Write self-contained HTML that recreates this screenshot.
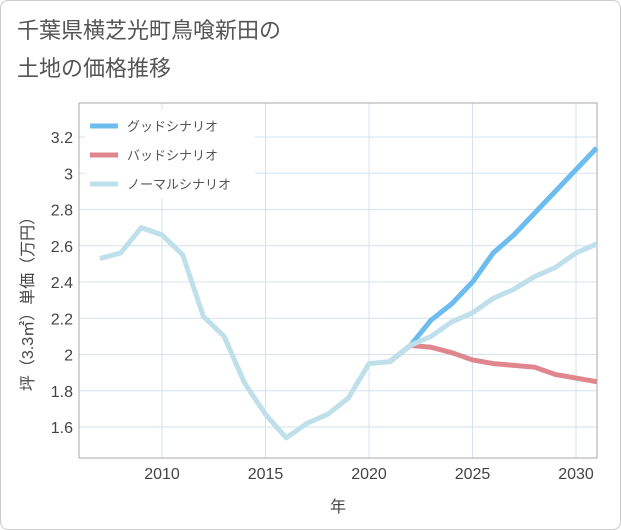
<!DOCTYPE html>
<html><head><meta charset="utf-8"><style>
body{margin:0;background:#fff;}
.card{position:absolute;left:0;top:0;width:619px;height:528px;border:1px solid #ccc;border-radius:8px;background:#fff;}
.title{position:absolute;left:17px;top:12px;font:22px "Liberation Sans","Noto Sans CJK JP",sans-serif;color:#555;line-height:38px;}
svg text{font-family:"Liberation Sans","Noto Sans CJK JP",sans-serif;}
</style></head><body>
<div class="card"></div>
<div class="title">千葉県横芝光町鳥喰新田の<br>土地の価格推移</div>
<svg id="c" width="621" height="530" style="position:absolute;left:0;top:0"></svg>
<script>
const normalYears=[2007,2008,2009,2010,2011,2012,2013,2014,2015,2016,2017,2018,2019,2020,2021,2022,2023,2024,2025,2026,2027,2028,2029,2030,2031];
const normalValues=[2.53,2.56,2.70,2.66,2.55,2.21,2.10,1.84,1.67,1.54,1.62,1.67,1.76,1.95,1.96,2.05,2.10,2.18,2.23,2.31,2.36,2.43,2.48,2.56,2.61];
const goodYears=[2021,2022,2023,2024,2025,2026,2027,2028,2029,2030,2031];
const goodValues=[1.96,2.05,2.19,2.28,2.40,2.56,2.66,2.78,2.90,3.02,3.14];
const badYears=[2021,2022,2023,2024,2025,2026,2027,2028,2029,2030,2031];
const badValues=[1.96,2.05,2.04,2.01,1.97,1.95,1.94,1.93,1.89,1.87,1.85];
const xTicks=[2010,2015,2020,2025,2030];
const yTicks=[1.6,1.8,2,2.2,2.4,2.6,2.8,3,3.2];
const L=79,R=597,T=103,B=458;
const xs=y=>162+(y-2010)*(576-162)/20;
const ys=v=>427-(v-1.6)*(427-137)/1.6;
const svg=document.getElementById('c');
const NS='http://www.w3.org/2000/svg';
function mk(t,a,p){const e=document.createElementNS(NS,t);for(const k in a)e.setAttribute(k,a[k]);(p||svg).appendChild(e);return e;}
xTicks.forEach(t=>{
const g=mk('line',{x1:xs(t),x2:xs(t),y1:T,y2:B,stroke:'#d3e3ef','stroke-width':1});


const l=mk('text',{x:xs(t),y:B+21,'text-anchor':'middle','font-size':16,fill:'#444'});l.textContent=t;


});
yTicks.forEach(t=>{
const g=mk('line',{x1:L,x2:R,y1:ys(t),y2:ys(t),stroke:'#d3e3ef','stroke-width':1});


const l=mk('text',{x:L-6,y:ys(t)+6,'text-anchor':'end','font-size':16,fill:'#444'});l.textContent=String(t);


});
const fr=mk('rect',{x:L,y:T,width:R-L,height:B-T,fill:'none',stroke:'#aaa','stroke-width':1});


function line(xa,va,col,name){
const p=mk('polyline',{points:xa.map((y,i)=>xs(y)+','+ys(va[i])).join(' '),fill:'none',stroke:col,'stroke-width':5,'stroke-linejoin':'round'});


}
line(goodYears,goodValues,'#6cbcf0','good-scenario-line');
line(badYears,badValues,'#e0868e','bad-scenario-line');
line(normalYears,normalValues,'#bfdfea','normal-scenario-line');
const lb=mk('rect',{x:85,y:110,width:170,height:88,fill:'#fff'});


[['グッドシナリオ','#6cbcf0'],['バッドシナリオ','#e0868e'],['ノーマルシナリオ','#bfdfea']].forEach((d,i)=>{
const y=126+i*29;
const s=mk('line',{x1:90,x2:118,y1:y,y2:y,stroke:d[1],'stroke-width':5});


const t=mk('text',{x:127,y:y+5,'font-size':13,fill:'#555'});t.textContent=d[0];


});
const xt=mk('text',{x:338,y:512,'text-anchor':'middle','font-size':16,fill:'#444'});xt.textContent='年';


const yt=mk('text',{x:0,y:0,'text-anchor':'middle','font-size':16,fill:'#444',transform:'translate(33,300) rotate(-90)'});yt.textContent='坪（3.3㎡）単価（万円）';


</script>
</body></html>
